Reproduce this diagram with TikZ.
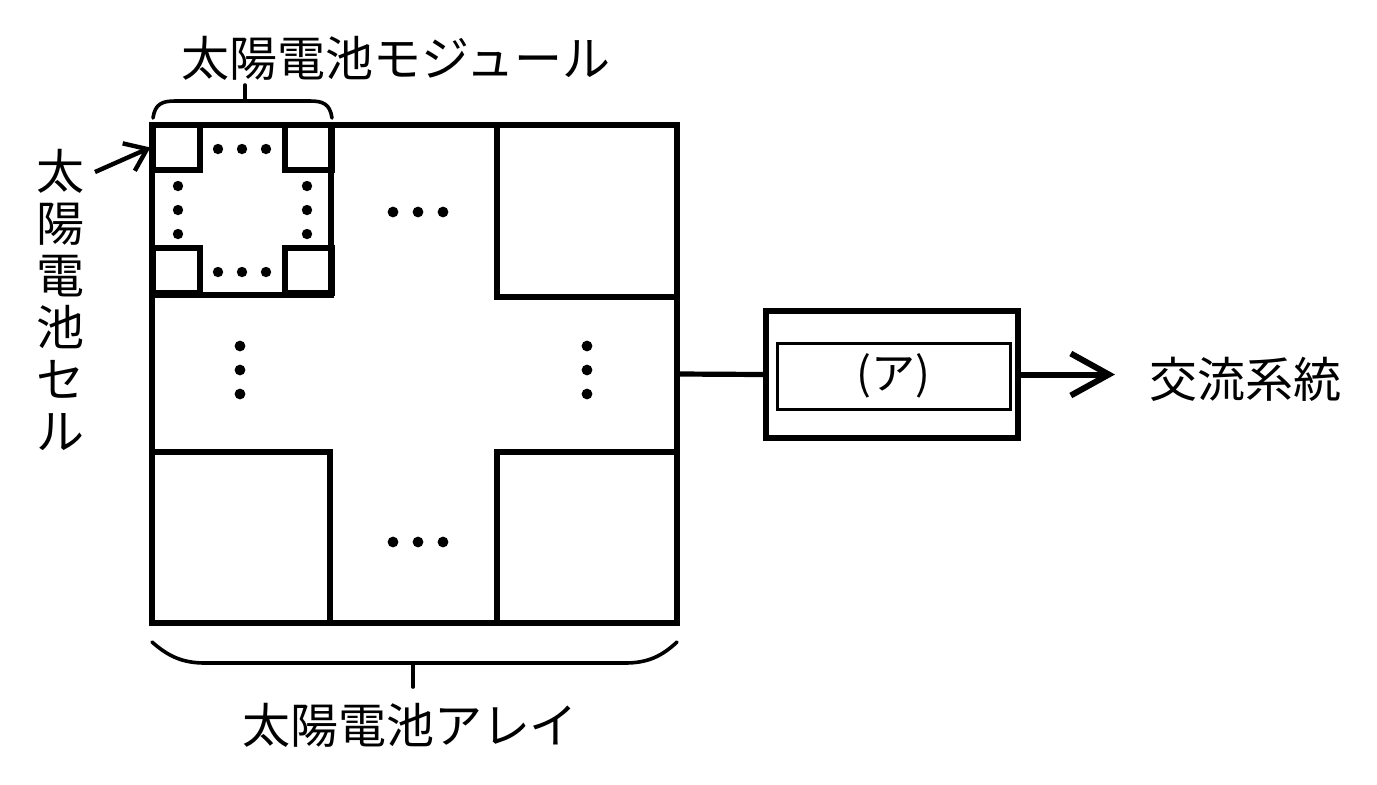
\documentclass[tikz,border=0pt]{standalone}
\usepackage{fontspec}
\setmainfont{Noto Sans CJK JP}
\usetikzlibrary{arrows.meta, positioning}

\begin{document}
\begin{tikzpicture}[x=0.5pt, y=-0.5pt,
    heavy/.style={line width=2.6pt},
    brace/.style={line width=1.8pt, line cap=round},
    lbl/.style={inner sep=0pt, font=\fontsize{24pt}{26pt}\selectfont},
    cellbox/.style={draw, heavy, minimum width=23.5pt, minimum height=22.5pt, inner sep=0pt},
    dotmark/.style={fill=black},
  ]
\useasboundingbox (0,0) rectangle (1377,784);

% array and modules
\node[draw, heavy, minimum width=262.5pt, minimum height=249pt, inner sep=0pt] (array) at (414.5,374) {};
\draw[heavy] (152,125) rectangle (331,295);
\draw[heavy] (497,125) rectangle (677,297);
\draw[heavy] (152,452) rectangle (330,623);
\draw[heavy] (497,452) rectangle (677,623);

% cells of one module
\node[cellbox] (cellA) at (176.5,147.5) {};
\node[cellbox] (cellB) at (308.5,147.5) {};
\node[cellbox] (cellC) at (176.5,270.5) {};
\node[cellbox] (cellD) at (308.5,270.5) {};

% dots
\foreach \x in {218,242,266} {
  \fill[dotmark] (\x,149) circle[radius=2.6pt];
  \fill[dotmark] (\x,272) circle[radius=2.6pt];
}
\foreach \y in {186,210,234} {
  \fill[dotmark] (178,\y) circle[radius=2.6pt];
  \fill[dotmark] (307,\y) circle[radius=2.6pt];
}
\foreach \x in {393,418,443} {
  \fill[dotmark] (\x,212) circle[radius=2.7pt];
  \fill[dotmark] (\x,542) circle[radius=2.7pt];
}
\foreach \y in {346,370,394} {
  \fill[dotmark] (240,\y) circle[radius=2.7pt];
  \fill[dotmark] (587,\y) circle[radius=2.7pt];
}

% braces
\draw[brace] (153,118) .. controls (155,104) and (162,101) .. (175,101) -- (310,101)
  .. controls (323,101) and (330,104) .. (332,118);
\draw[brace] (245,101) -- (245,85);
\draw[brace] (152,642) .. controls (168,656) and (182,663) .. (205,663) -- (625,663)
  .. controls (648,663) and (662,656) .. (677,642);
\draw[brace] (413,663) -- (413,687);

% labels
\node[lbl] (modlbl) at (396,58) {太陽電池モジュール};
\node[lbl] (arrlbl) at (410,725) {太陽電池アレイ};
\node[lbl, align=center] (celllbl) at (60,300) {太\\陽\\電\\池\\セ\\ル};
\coordinate (cellfrom) at (95,172);
\draw[line width=2.2pt, -{Straight Barb[length=10pt, width=15pt]}] (cellfrom) -- (cellA.west);

% converter
\node[draw, heavy, minimum width=126pt, minimum height=63.5pt, inner sep=0pt] (inv) at (892,374.5) {};
\node[draw, line width=1.5pt, minimum width=116.5pt, minimum height=33pt, inner sep=0pt,
  font=\fontsize{22pt}{24pt}\selectfont] (invlbl) at (893.5,376) {(ア)};
\draw[heavy] (array.east) -- (inv.west);

% grid side
\node[lbl] (grid) at (1245,379) {交流系統};
\coordinate (gridin) at (1115,374.5);
\draw[heavy, line width=3pt, -{Straight Barb[length=19pt, width=21pt]}] (inv.east) -- (gridin);
\end{tikzpicture}
\end{document}
